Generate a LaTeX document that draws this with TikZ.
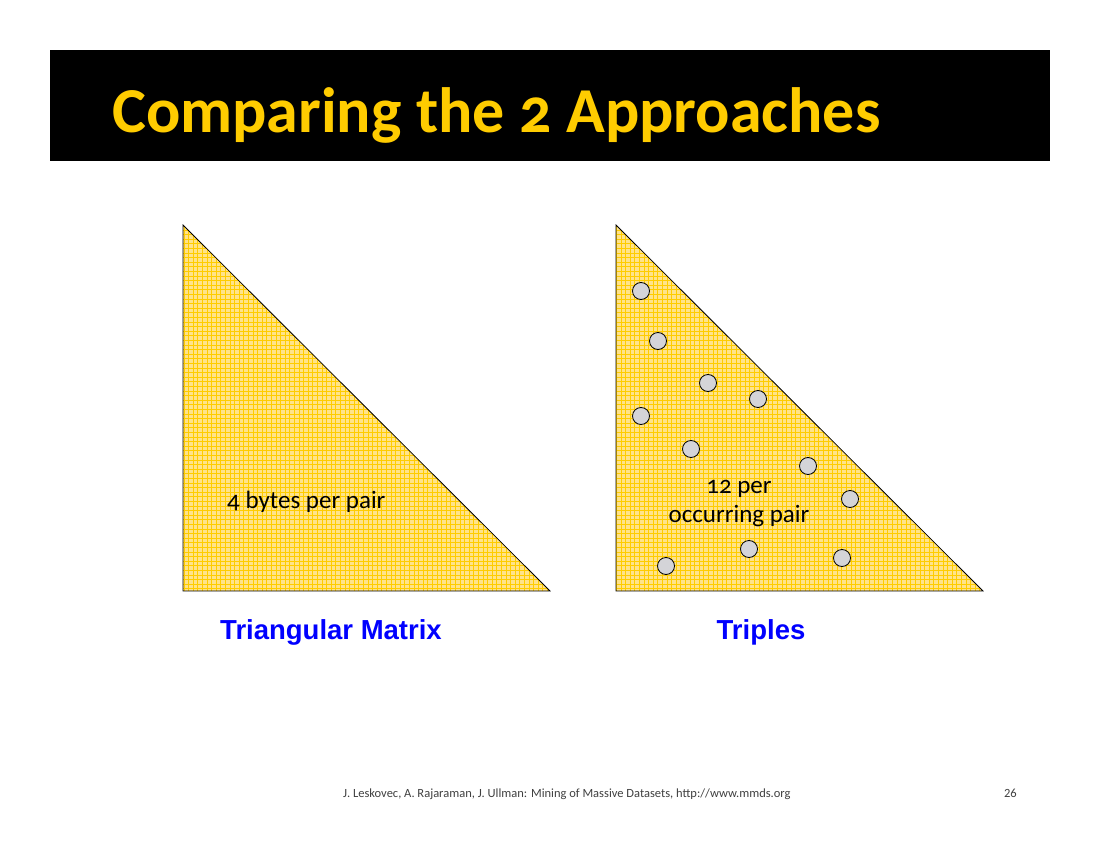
\documentclass[tikz,border=0pt]{standalone}
\usepackage{fontspec}
\setmainfont{Carlito}[Numbers=OldStyle]
\newfontfamily\footfont{Carlito}
\newfontfamily\arialfont{Liberation Sans}
\definecolor{titleyellow}{HTML}{FFCC00}
\definecolor{cellfill}{HTML}{FFE38A}
\definecolor{gridline}{HTML}{FFCC00}
\definecolor{dotgray}{HTML}{D4D4D8}
\definecolor{captionblue}{HTML}{0000FF}
\begin{document}
\begin{tikzpicture}[x=1pt,y=-1pt,
  tri/.style={draw=black,line width=0.8pt},
  hatchgrid/.style={draw=gridline,line width=0.8pt,step=4.6pt},
  dot/.style={circle,draw=black,line width=0.8pt,fill=dotgray,minimum size=17pt,inner sep=0pt},
  caption/.style={font=\arialfont\bfseries\fontsize{27.5}{32}\selectfont,text=captionblue},
  body/.style={font=\fontsize{25}{29}\selectfont,align=center},
  foot/.style={font=\footfont\fontsize{12.5}{15}\selectfont,text=black!75,inner sep=0pt}]
\useasboundingbox (0,0) rectangle (1100,850);
\fill[white] (0,0) rectangle (1100,850);

% title bar
\fill[black] (50,50) rectangle (1050,161);
\node[anchor=base west,inner sep=0pt,text=titleyellow,font=\bfseries\fontsize{64}{72}\selectfont] (title) at (112,133) {Comparing the 2 Approaches};

% triangular matrix
\coordinate (a1) at (183,225);
\coordinate (a2) at (183,591);
\coordinate (a3) at (550,591);
\begin{scope}
  \clip (a1) -- (a2) -- (a3) -- cycle;
  \fill[cellfill] (a1) rectangle (a3);
  \draw[hatchgrid] (183,225) grid (550,591);
\end{scope}
\draw[tri] (a1) -- (a2) -- (a3) -- cycle;
\node[body,anchor=base west,inner sep=0pt] (tmtext) at (227,508) {4 bytes per pair};

% triples
\coordinate (b1) at (616,225);
\coordinate (b2) at (616,591);
\coordinate (b3) at (983,591);
\begin{scope}
  \clip (b1) -- (b2) -- (b3) -- cycle;
  \fill[cellfill] (b1) rectangle (b3);
  \draw[hatchgrid] (616,225) grid (983,591);
\end{scope}
\draw[tri] (b1) -- (b2) -- (b3) -- cycle;
\node[body,inner sep=0pt] (trtext) at (739,504) {12 per\\occurring pair};

\foreach \n/\px/\py in {1/641/291, 2/658/341, 3/708/383, 4/758/399, 5/641/416, 6/691/449,
  7/808/466, 8/850/499, 9/749/549, 10/842/558, 11/666/566}
  \node[dot] (d\n) at (\px,\py) {};

% captions
\node[caption] (captm) at (331,632) {Triangular Matrix};
\node[caption] (captr) at (761,632) {Triples};

% footer
\node[foot,anchor=base west] (footer) at (343,797) {J. Leskovec, A. Rajaraman, J. Ullman: Mining of Massive Datasets, http://www.mmds.org};
\node[foot,anchor=base east] (page) at (1017,797) {26};
\end{tikzpicture}
\end{document}
